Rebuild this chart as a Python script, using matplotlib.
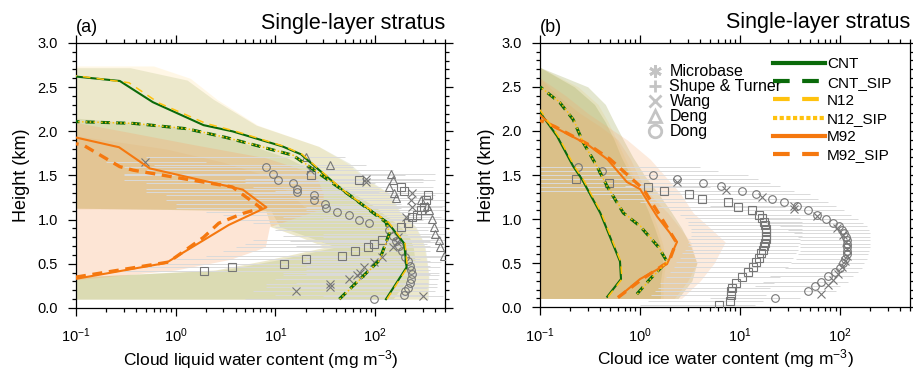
"""Single-layer stratus: cloud liquid / ice water content profiles (a, b)."""
import matplotlib
matplotlib.use("Agg")
import matplotlib.pyplot as plt
from matplotlib.lines import Line2D
from matplotlib.ticker import FixedLocator, LogLocator, NullFormatter, FormatStrFormatter
import numpy as np

plt.rcParams["font.family"] = ["Liberation Sans", "DejaVu Sans"]
plt.rcParams["mathtext.fontset"] = "custom"
plt.rcParams["mathtext.rm"] = "Liberation Sans"
plt.rcParams["mathtext.it"] = "Liberation Sans:italic"
plt.rcParams["mathtext.bf"] = "Liberation Sans:bold"

X_MIN, X_MAX = 0.1, 500

# ---------------- panel (a): liquid water, model lines ----------------
A_CNT_H = [0.10, 0.46, 0.73, 0.97, 1.14, 1.30, 1.56, 1.74, 1.83, 2.00, 2.07, 2.33, 2.57, 2.62]
A_CNT_X = [128, 206, 195, 133, 81, 51, 27.5, 18, 11.7, 3.7, 1.9, 0.59, 0.275, 0.1]
A_N12_H = [0.10, 0.46, 0.73, 0.97, 1.14, 1.30, 1.56, 1.74, 1.83, 2.00, 2.09, 2.32, 2.55, 2.63]
A_N12_X = [131, 210, 199, 136, 83, 52, 28, 18.5, 12.2, 4.0, 2.0, 0.68, 0.34, 0.1]
A_CNTSIP_H = [0.10, 0.54, 0.84, 0.97, 1.11, 1.28, 1.52, 1.73, 1.84, 1.93, 2.03, 2.09, 2.11]
A_CNTSIP_X = [43.6, 110, 138, 128, 87, 55, 27.5, 14.9, 6.4, 3.2, 1.28, 0.375, 0.1]
A_N12SIP_X = [44, 111, 139, 129, 88, 55, 28, 15, 6.5, 3.2, 1.3, 0.38, 0.1]
A_M92_H = [0.33, 0.51, 0.94, 1.14, 1.34, 1.58, 1.82, 1.93]
A_M92_X = [0.1, 0.8, 3.4, 8.1, 4.7, 0.55, 0.27, 0.1]
A_M92SIP_H = [0.35, 0.52, 0.80, 0.96, 1.07, 1.13, 1.37, 1.56, 1.60, 1.84, 1.86]
A_M92SIP_X = [0.1, 0.85, 1.9, 2.7, 4.7, 7.2, 3.7, 0.375, 0.275, 0.12, 0.1]

# panel (a) ensemble spread bands
A_CNT_BAND_H = [0.10, 0.35, 0.43, 0.54, 0.69, 0.80, 0.92, 1.10, 1.13, 1.30, 1.45, 1.64, 1.83, 2.07, 2.36, 2.58, 2.72]
A_CNT_BAND_LO = [0.1, 0.1, 2.5, 8, 32, 18, 9, 8, 0.1, 0.1, 0.1, 0.1, 0.1, 0.1, 0.1, 0.1, 0.1]
A_CNT_BAND_HI = [340, 345, 340, 330, 316, 290, 255, 175, 170, 138, 85, 55, 27, 6.4, 2.4, 1.3, 0.35]
A_N12_BAND_H = [0.10, 0.35, 0.43, 0.54, 0.69, 0.80, 0.92, 1.10, 1.13, 1.30, 1.45, 1.64, 1.83, 2.07, 2.36, 2.60, 2.74]
A_N12_BAND_HI = [330, 340, 335, 325, 310, 285, 250, 170, 165, 135, 82, 52, 27, 6.6, 2.6, 1.4, 0.6]
A_SIP_BAND_H = [0.10, 0.35, 0.43, 0.54, 0.69, 0.80, 0.92, 1.10, 1.13, 1.30, 1.50, 1.70, 1.90, 2.05, 2.15]
A_SIP_BAND_LO = [0.1, 0.1, 3, 10, 40, 22, 11, 9, 0.1, 0.1, 0.1, 0.1, 0.1, 0.1, 0.1]
A_SIP_BAND_HI = [150, 220, 240, 250, 240, 220, 180, 110, 105, 60, 30, 13, 4, 1.0, 0.1]
A_M92_BAND_H = [0.32, 0.43, 0.55, 0.69, 0.92, 1.13, 1.30, 1.52, 1.70, 1.85, 2.00, 2.10]
A_M92_BAND_HI = [0.1, 1.0, 3.5, 7.9, 8.7, 30, 30, 25, 8, 1.5, 0.3, 0.1]
A_M92SIP_BAND_H = [1.12, 1.13, 1.30, 1.50, 1.65, 1.80, 1.95]
A_M92SIP_BAND_HI = [0.1, 20, 14, 8, 3, 0.8, 0.1]

# panel (a) observations
A_SQ_X = [1.9, 3.7, 12.1, 20, 46, 62, 85, 98, 118, 180, 215, 235, 265, 285, 310, 325, 335, 195, 180, 69, 22.7]
A_SQ_H = [0.42, 0.46, 0.50, 0.56, 0.59, 0.64, 0.69, 0.73, 0.77, 0.92, 0.96, 1.03, 1.05, 1.11, 1.14, 1.22, 1.28, 1.33, 1.37, 1.45, 1.50]
A_SQ_LO = [0.3, 0.5, 0.8, 1, 2, 3, 4, 5, 6, 10, 10, 12, 15, 20, 25, 25, 25, 10, 8, 2, 0.3]
A_SQ_HI = [200, 220, 250, 280, 300, 320, 330, 330, 330, 340, 350, 360, 370, 380, 390, 400, 400, 320, 300, 250, 200]
A_X_X = [300, 16, 35.5, 35.5, 55, 66, 70, 78, 98, 118, 150, 166, 170, 203, 235, 226, 235, 81, 80, 22, 0.49]
A_X_H = [0.14, 0.19, 0.24, 0.27, 0.33, 0.37, 0.40, 0.46, 0.52, 0.58, 0.69, 0.75, 0.80, 1.03, 1.14, 1.22, 1.30, 1.43, 1.46, 1.56, 1.65]
A_X_LO = [30, 6, 8, 8, 10, 12, 12, 15, 18, 20, 25, 30, 30, 20, 20, 20, 20, 5, 5, 0.5, 0.2]
A_X_HI = [480, 400, 420, 420, 430, 440, 440, 450, 460, 460, 460, 460, 460, 460, 470, 480, 480, 300, 300, 150, 2]
A_TRI_X = [20, 35, 143, 150, 138, 155, 160, 290, 330, 347, 370, 390, 400, 435, 443, 490]
A_TRI_H = [1.71, 1.62, 1.52, 1.45, 1.37, 1.30, 1.24, 1.22, 1.16, 1.11, 1.01, 0.92, 0.84, 0.77, 0.69, 0.59]
A_TRI_LO = [0.5, 0.6, 8, 8, 6, 6, 6, 30, 30, 30, 30, 30, 30, 30, 30, 30]
A_TRI_HI = [50, 80, 400, 400, 380, 380, 380, 500, 500, 500, 500, 500, 500, 500, 500, 500]
A_CI_X = [8.1, 9.4, 10.6, 14.9, 16.5, 16.5, 24.5, 24.5, 31, 32, 41, 54, 69, 86, 138, 150, 160, 174, 186, 200,
          212, 222, 230, 234, 230, 222, 212, 200, 195, 97]
A_CI_H = [1.60, 1.52, 1.45, 1.41, 1.35, 1.31, 1.28, 1.22, 1.18, 1.13, 1.09, 1.05, 1.00, 0.96, 0.88, 0.82, 0.76, 0.70, 0.64, 0.58,
          0.53, 0.48, 0.43, 0.38, 0.33, 0.28, 0.23, 0.19, 0.15, 0.10]
A_CI_LO = [0.3, 0.3, 0.3, 0.5, 0.5, 0.5, 0.8, 0.8, 1, 1, 2, 3, 4, 6, 10, 12, 14, 16, 18, 20,
           20, 20, 20, 20, 18, 16, 14, 12, 10, 5]
A_CI_HI = [60, 70, 80, 100, 110, 110, 150, 150, 180, 180, 220, 260, 300, 320, 340, 350, 350, 350, 350, 350,
           350, 350, 350, 350, 350, 340, 330, 320, 310, 200]

# ---------------- panel (b): ice water, model lines ----------------
B_CNT_H = [0.12, 0.32, 0.52, 1.07, 1.45, 1.60, 1.94, 2.21]
B_CNT_X = [0.47, 0.645, 0.63, 0.40, 0.263, 0.214, 0.148, 0.1]
B_N12_H = [0.12, 0.32, 0.52, 1.07, 1.45, 1.60, 1.94, 2.24]
B_N12_X = [0.48, 0.66, 0.64, 0.41, 0.27, 0.22, 0.152, 0.1]
B_CNTSIP_H = [0.15, 0.32, 0.52, 0.69, 0.92, 1.07, 1.37, 1.60, 1.87, 2.13, 2.32, 2.50]
B_CNTSIP_X = [0.93, 1.26, 1.86, 1.51, 1.0, 0.68, 0.47, 0.37, 0.27, 0.214, 0.158, 0.1]
B_N12SIP_X = [0.94, 1.27, 1.88, 1.52, 1.01, 0.69, 0.47, 0.37, 0.27, 0.216, 0.16, 0.1]
B_M92_H = [0.13, 0.32, 0.49, 0.74, 1.03, 1.34, 1.42, 1.68, 1.85, 2.05, 2.18]
B_M92_X = [0.63, 1.0, 1.86, 2.34, 1.48, 1.0, 0.74, 0.47, 0.295, 0.135, 0.1]
B_M92SIP_H = [0.11, 0.32, 0.52, 0.74, 1.03, 1.34, 1.68, 1.85, 2.05, 2.12]
B_M92SIP_X = [0.6, 1.05, 1.95, 2.3, 1.6, 1.08, 0.5, 0.3, 0.14, 0.1]

# panel (b) bands (lower edge is the axis minimum)
B_BAND_H = [0.10, 0.30, 0.50, 0.70, 0.90, 1.10, 1.30, 1.50, 1.70, 1.90, 2.10, 2.30, 2.50, 2.72]
B_CNT_BAND_HI = [1.6, 1.6, 1.7, 1.6, 1.4, 1.2, 1.0, 0.8, 0.65, 0.55, 0.45, 0.35, 0.22, 0.1]
B_N12_BAND_HI = [1.7, 1.7, 1.8, 1.7, 1.5, 1.3, 1.05, 0.85, 0.7, 0.58, 0.48, 0.38, 0.24, 0.1]
B_SIP_BAND_HI = [2.4, 3.3, 3.7, 3.2, 2.6, 2.0, 1.5, 1.1, 0.85, 0.68, 0.55, 0.45, 0.3, 0.1]
B_M92_BAND_H = [0.10, 0.30, 0.50, 0.74, 0.90, 1.07, 1.30, 1.45, 1.68, 1.90, 2.05, 2.20, 2.40, 2.60]
B_M92_BAND_HI = [2.6, 4.0, 5.5, 7.1, 5.0, 3.4, 2.5, 1.9, 1.26, 0.74, 0.47, 0.3, 0.18, 0.1]
B_M92SIP_BAND_HI = [2.2, 3.0, 3.7, 3.2, 2.5, 1.9, 1.2, 1.0, 0.8, 0.6, 0.4, 0.25, 0.15, 0.1]

# panel (b) observations
B_SQ_X = [0.23, 0.49, 1.21, 1.75, 3.07, 4.14, 7.5, 9.6, 13.3, 15.3, 16.5, 17.2, 17.8, 18.0, 18.2, 18.2,
          18.0, 17.8, 17.4, 16.8, 16.2, 15.3, 14.5, 13.6, 12.1, 10.4, 9.1, 8.4, 8.1, 8.1, 7.9, 6.2]
B_SQ_H = [1.45, 1.41, 1.36, 1.32, 1.28, 1.23, 1.19, 1.14, 1.10, 1.05, 1.01, 0.97, 0.93, 0.89, 0.85, 0.81,
          0.77, 0.73, 0.69, 0.65, 0.61, 0.56, 0.51, 0.46, 0.40, 0.34, 0.28, 0.22, 0.18, 0.14, 0.07, 0.03]
B_SQ_LO = [0.1, 0.1, 0.1, 0.1, 0.3, 0.5, 1.0, 1.5, 2.0, 2.5, 2.8, 3.0, 3.0, 3.2, 3.2, 3.2,
           3.0, 3.0, 3.0, 2.8, 2.6, 2.5, 2.3, 2.2, 2.0, 1.8, 1.6, 1.5, 1.4, 1.3, 1.2, 1.0]
B_SQ_HI = [1.5, 2.5, 5, 7, 11, 14, 22, 28, 35, 38, 40, 42, 42, 42, 42, 42,
           40, 40, 38, 38, 36, 34, 32, 30, 28, 25, 22, 20, 19, 18, 17, 14]
B_CI_X = [0.24, 0.42, 1.36, 2.36, 4.3, 6.5, 10.4, 14.4, 20.7, 27.5, 36.7, 47.4, 59, 72, 84, 98, 104,
          110, 114, 117, 118, 118, 117, 116, 112, 108, 100, 89, 76, 65, 56, 48, 22.4]
B_CI_H = [1.59, 1.54, 1.50, 1.45, 1.41, 1.37, 1.32, 1.28, 1.23, 1.19, 1.15, 1.10, 1.05, 1.00, 0.96, 0.92, 0.88,
          0.84, 0.80, 0.76, 0.72, 0.68, 0.64, 0.60, 0.55, 0.50, 0.45, 0.40, 0.35, 0.29, 0.24, 0.19, 0.11]
B_CI_LO = [0.1, 0.1, 0.1, 0.2, 0.4, 0.7, 1.2, 1.8, 2.5, 3.5, 5, 8, 10, 14, 18, 25, 30,
           35, 38, 40, 40, 40, 40, 38, 36, 32, 28, 24, 20, 17, 14, 12, 5]
B_CI_HI = [4, 6, 12, 15, 20, 25, 35, 50, 60, 75, 90, 110, 130, 150, 170, 185, 195,
           200, 200, 200, 200, 200, 195, 190, 185, 175, 165, 150, 135, 120, 100, 90, 40]
B_X_X = [2.36, 7.2, 16.5, 35, 35, 59, 93, 108, 115, 118, 117, 112, 104, 95, 85, 76, 65]
B_X_H = [1.42, 1.33, 1.25, 1.15, 1.11, 1.03, 0.90, 0.82, 0.74, 0.66, 0.58, 0.52, 0.46, 0.38, 0.31, 0.25, 0.15]

OBS_LABELS = ["Microbase", "Shupe & Turner", "Wang", "Deng", "Dong"]
OBS_MARKERS = [(6, 2, 0), "+", "x", "^", "o"]
MODEL_LABELS = ["CNT", "CNT_SIP", "N12", "N12_SIP", "M92", "M92_SIP"]

GREEN = "#0a6a0a"
GOLD = "#ffc20e"
ORANGE = "#f5780f"
OBS_GRAY = "#767676"
ERR_GRAY = "#dadada"
GREEN_BAND = "#a3ad62"
GOLD_BAND = "#ffd878"
ORANGE_BAND = "#f8a468"
ORANGE_BAND2 = "#e9a860"


def band(ax, h, lo, hi, color, alpha):
    ax.fill_betweenx(h, lo, hi, color=color, alpha=alpha, lw=0, zorder=1)


def obs(ax, x, h, marker, lo=None, hi=None, ms=5.5):
    if lo is not None:
        ax.hlines(h, lo, hi, color=ERR_GRAY, lw=0.7, zorder=2)
    ax.plot(x, h, ls="", marker=marker, mfc="none", mec=OBS_GRAY, mew=0.8,
            ms=ms, zorder=3)


def models(ax, cnt, n12, cntsip, n12sip, m92, m92sip):
    ax.plot(*cntsip, color=GREEN, lw=2.2, ls=(0, (3, 2)), zorder=4)
    ax.plot(*n12sip, color=GOLD, lw=1.1, ls=(0, (1, 1.5)), zorder=5)
    ax.plot(*cnt, color=GREEN, lw=1.5, zorder=4)
    ax.plot(*n12, color=GOLD, lw=1.1, ls=(0, (5, 4)), zorder=5)
    ax.plot(*m92, color=ORANGE, lw=1.5, zorder=4)
    ax.plot(*m92sip, color=ORANGE, lw=2.4, ls=(0, (3, 2)), zorder=4)


def style_axes(ax, xlabel, tag):
    ax.set_xscale("log")
    ax.set_xlim(X_MIN, X_MAX)
    ax.set_ylim(0, 3)
    ax.xaxis.set_major_locator(FixedLocator([0.1, 1, 10, 100]))
    ax.xaxis.set_minor_locator(LogLocator(base=10, subs=np.arange(2, 10)))
    ax.xaxis.set_minor_formatter(NullFormatter())
    ax.yaxis.set_major_locator(FixedLocator(np.arange(0, 3.01, 0.5)))
    ax.yaxis.set_minor_locator(FixedLocator(np.arange(0, 3.01, 0.1)))
    ax.yaxis.set_major_formatter(FormatStrFormatter("%.1f"))
    ax.tick_params(which="both", direction="out", top=True, right=True,
                   width=0.9, labelsize=10.5)
    ax.tick_params(which="major", length=5.5)
    ax.tick_params(which="minor", length=3)
    ax.tick_params(axis="x", which="major", pad=8)
    ax.tick_params(axis="y", which="major", pad=7.5)
    for sp in ax.spines.values():
        sp.set_linewidth(0.9)
    ax.set_xlabel(xlabel, fontsize=12.5, labelpad=2)
    ax.set_ylabel("Height (km)", fontsize=13, labelpad=5)
    ax.text(0.0, 1.025, tag, transform=ax.transAxes, fontsize=13,
            ha="left", va="bottom")
    ax.text(1.0, 1.035, "Single-layer stratus", transform=ax.transAxes,
            fontsize=15.5, ha="right", va="bottom")


def main():
    fig = plt.figure(figsize=(9.13, 3.70), dpi=100)
    ax_a = fig.add_axes([0.0832, 0.1676, 0.4042, 0.7162])
    ax_b = fig.add_axes([0.5915, 0.1695, 0.4052, 0.7150])

    # ---- panel (a)
    ax = ax_a
    band(ax, A_N12_BAND_H, A_CNT_BAND_LO, A_N12_BAND_HI, GOLD_BAND, 0.18)
    band(ax, A_CNT_BAND_H, A_CNT_BAND_LO, A_CNT_BAND_HI, GREEN_BAND, 0.20)
    band(ax, A_SIP_BAND_H, A_SIP_BAND_LO, A_SIP_BAND_HI, GREEN_BAND, 0.22)
    band(ax, A_M92_BAND_H, X_MIN, A_M92_BAND_HI, ORANGE_BAND, 0.28)
    band(ax, A_M92SIP_BAND_H, X_MIN, A_M92SIP_BAND_HI, ORANGE_BAND2, 0.16)
    obs(ax, A_SQ_X, A_SQ_H, "s", A_SQ_LO, A_SQ_HI)
    obs(ax, A_X_X, A_X_H, "x", A_X_LO, A_X_HI)
    obs(ax, A_TRI_X, A_TRI_H, "^", A_TRI_LO, A_TRI_HI)
    obs(ax, A_CI_X, A_CI_H, "o", A_CI_LO, A_CI_HI)
    models(ax, (A_CNT_X, A_CNT_H), (A_N12_X, A_N12_H),
           (A_CNTSIP_X, A_CNTSIP_H), (A_N12SIP_X, A_CNTSIP_H),
           (A_M92_X, A_M92_H), (A_M92SIP_X, A_M92SIP_H))
    style_axes(ax, r"Cloud liquid water content (mg m$^{-3}$)", "(a)")

    # ---- panel (b)
    ax = ax_b
    band(ax, B_BAND_H, X_MIN, B_N12_BAND_HI, GOLD_BAND, 0.20)
    band(ax, B_BAND_H, X_MIN, B_CNT_BAND_HI, GREEN_BAND, 0.30)
    band(ax, B_BAND_H, X_MIN, B_SIP_BAND_HI, GREEN_BAND, 0.30)
    band(ax, B_M92_BAND_H, X_MIN, B_M92_BAND_HI, ORANGE_BAND, 0.22)
    band(ax, B_M92_BAND_H, X_MIN, B_M92SIP_BAND_HI, ORANGE_BAND2, 0.18)
    obs(ax, B_SQ_X, B_SQ_H, "s", B_SQ_LO, B_SQ_HI)
    obs(ax, B_CI_X, B_CI_H, "o", B_CI_LO, B_CI_HI)
    obs(ax, B_X_X, B_X_H, "x")
    models(ax, (B_CNT_X, B_CNT_H), (B_N12_X, B_N12_H),
           (B_CNTSIP_X, B_CNTSIP_H), (B_N12SIP_X, B_CNTSIP_H),
           (B_M92_X, B_M92_H), (B_M92SIP_X, B_M92SIP_H))
    style_axes(ax, r"Cloud ice water content (mg m$^{-3}$)", "(b)")

    obs_handles = [Line2D([], [], ls="", marker=m, mfc="none", mec="#c4c4c4",
                          mew=2.0, ms=9) for m in OBS_MARKERS]
    leg1 = ax.legend(obs_handles, OBS_LABELS, loc="upper left",
                     bbox_to_anchor=(0.285, 0.925), frameon=False, fontsize=11.5,
                     handlelength=1.0, handletextpad=0.4, labelspacing=0.0,
                     borderpad=0.1, borderaxespad=0)
    ax.add_artist(leg1)
    model_styles = [
        dict(color=GREEN, lw=3, ls="-"),
        dict(color=GREEN, lw=3, ls=(0, (4, 3))),
        dict(color=GOLD, lw=3, ls=(0, (4, 3))),
        dict(color=GOLD, lw=3, ls=(0, (1, 0.6))),
        dict(color=ORANGE, lw=3, ls="-"),
        dict(color=ORANGE, lw=3, ls=(0, (4, 3))),
    ]
    model_handles = [Line2D([], [], **s) for s in model_styles]
    ax.legend(model_handles, MODEL_LABELS, loc="upper left",
              bbox_to_anchor=(0.625, 0.95), frameon=False, fontsize=11,
              handlelength=3.4, handletextpad=0.15, labelspacing=0.27,
              borderpad=0.1, borderaxespad=0)

    fig.savefig("out.png", dpi=100)
    plt.close(fig)


if __name__ == "__main__":
    main()
